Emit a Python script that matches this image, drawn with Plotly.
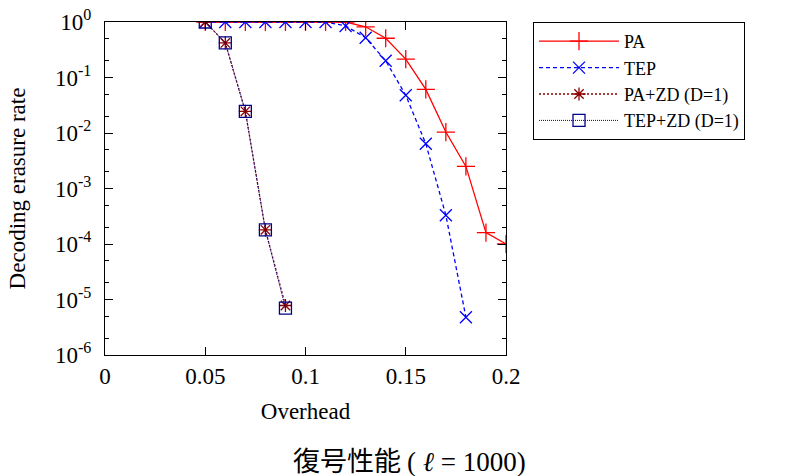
import plotly.graph_objects as go

overhead_pa = [0.05, 0.06, 0.07, 0.08, 0.09, 0.10, 0.11, 0.12, 0.13, 0.14, 0.15, 0.16, 0.17, 0.18, 0.19, 0.20]
pa = [1, 1, 1, 1, 1, 1, 1, 1, 0.82, 0.51, 0.214, 0.061, 0.0104, 0.0025, 1.6e-4, 1.0e-4]

overhead_tep = [0.05, 0.06, 0.07, 0.08, 0.09, 0.10, 0.11, 0.12, 0.13, 0.14, 0.15, 0.16, 0.17, 0.18]
tep = [1, 1, 1, 1, 1, 1, 1, 0.85, 0.52, 0.20, 0.048, 0.0064, 3.3e-4, 4.8e-6]

overhead_zd = [0.05, 0.06, 0.07, 0.08, 0.09]
pa_zd = [1, 0.42, 0.0246, 1.8e-4, 7.8e-6]
tep_zd = [1, 0.42, 0.0246, 1.8e-4, 7.0e-6]

xtick_vals = [0, 0.05, 0.1, 0.15, 0.2]
xtick_text = ["0", "0.05", "0.1", "0.15", "0.2"]
ytick_vals = [1, 1e-1, 1e-2, 1e-3, 1e-4, 1e-5, 1e-6]
ytick_text = ["10<sup>0</sup>", "10<sup>-1</sup>", "10<sup>-2</sup>", "10<sup>-3</sup>",
              "10<sup>-4</sup>", "10<sup>-5</sup>", "10<sup>-6</sup>"]

serif = "Liberation Serif"
fs = 23

fig = go.Figure()
fig.add_trace(go.Scatter(x=overhead_pa, y=pa, name="PA", mode="lines+markers",
                         line=dict(color="#ff0000", width=1.3),
                         marker=dict(symbol="cross-thin-open", size=13, line=dict(color="#ff0000", width=1.3))))
fig.add_trace(go.Scatter(x=overhead_tep, y=tep, name="TEP", mode="lines+markers",
                         line=dict(color="#0000ff", width=1.3, dash="4px,3px"),
                         marker=dict(symbol="x-thin-open", size=12, line=dict(color="#0000ff", width=1.3))))
fig.add_trace(go.Scatter(x=overhead_zd, y=pa_zd, name="PA+ZD (D=1)", mode="lines+markers",
                         line=dict(color="#8b0000", width=1.3, dash="2px,2px"),
                         marker=dict(symbol="asterisk-open", size=11, line=dict(color="#8b0000", width=1.3))))
fig.add_trace(go.Scatter(x=overhead_zd, y=tep_zd, name="TEP+ZD (D=1)", mode="lines+markers",
                         line=dict(color="#00008b", width=1, dash="1px,1px"),
                         marker=dict(symbol="square-open", size=12, line=dict(color="#00008b", width=1.3))))

L = 105
T = 22
PW = 401
PH = 333

fig.update_layout(
    width=800, height=476,
    margin=dict(l=L, r=800 - L - PW, t=T, b=476 - T - PH, autoexpand=False),
    paper_bgcolor="white", plot_bgcolor="white",
    font=dict(family=serif, size=fs, color="black"),
    showlegend=True,
    legend=dict(x=(533 - 105) / PW, y=1.0, xanchor="left", yanchor="top",
                bordercolor="black", borderwidth=1, bgcolor="white",
                font=dict(family=serif, size=18), tracegroupgap=0,
                itemwidth=80),
    xaxis=dict(range=[0, 0.2], tickvals=xtick_vals, ticktext=xtick_text,
               ticks="inside", ticklen=8, tickcolor="black", mirror="allticks",
               showline=True, linecolor="black", linewidth=1, showgrid=False,
               zeroline=False, automargin=False, tickfont=dict(size=fs),
               ticklabeloverflow="allow",
               title=dict(text="Overhead", font=dict(family=serif, size=fs), standoff=15)),
    yaxis=dict(type="log", range=[-6, 0], tickvals=ytick_vals, ticktext=ytick_text,
               ticks="inside", ticklen=8, tickcolor="black", mirror="allticks",
               showline=True, linecolor="black", linewidth=1, showgrid=False,
               zeroline=False, automargin=False, tickfont=dict(size=fs),
               ticklabelstandoff=8, ticklabeloverflow="allow",
               minor=dict(ticks="inside", ticklen=4, tickcolor="black", showgrid=False),
               title=dict(text="Decoding erasure rate", font=dict(family=serif, size=fs), standoff=22)),
)

fig.add_annotation(text="復号性能 <span style='font-family:Liberation Serif'>( <i>ℓ</i> = 1000)</span>",
                   xref="paper", yref="paper",
                   x=(409 - 105) / PW, y=-(460 - 355) / PH, xanchor="center", yanchor="middle",
                   showarrow=False, font=dict(family="Noto Sans CJK JP", size=27, color="black"))

fig.write_html("out.html", config={"displayModeBar": False},
               post_script="document.body.style.margin='0';")
